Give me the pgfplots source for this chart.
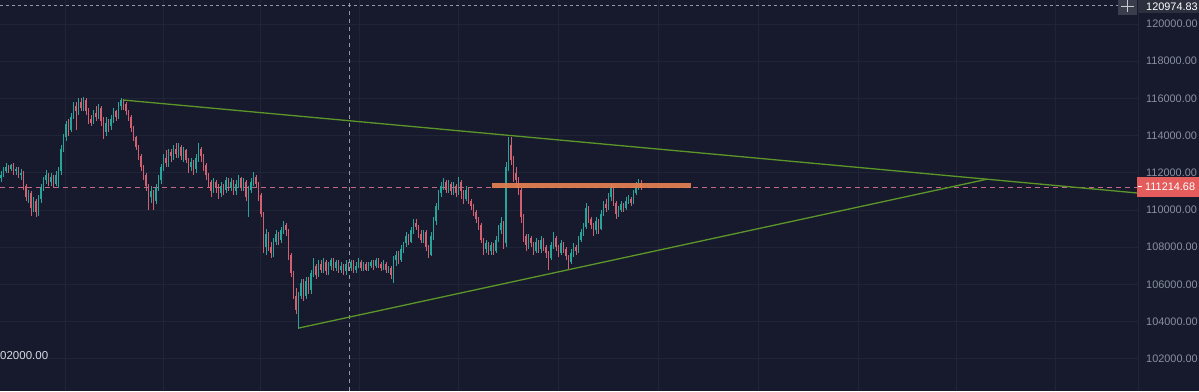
\documentclass[border=0pt]{standalone}
\usepackage{pgfplots}
\pgfplotsset{compat=1.18}
\usepackage{pgfplotstable}
\usepackage{fontspec}
\setmainfont{Liberation Sans}
\definecolor{bg}{RGB}{22,26,44}
\definecolor{gridc}{RGB}{31,36,55}
\definecolor{upc}{RGB}{38,166,154}
\definecolor{dnc}{RGB}{210,96,112}
\definecolor{trend}{RGB}{92,150,40}
\definecolor{band}{RGB}{228,128,82}
\definecolor{pricec}{RGB}{196,104,134}
\definecolor{tickc}{RGB}{138,143,158}
\definecolor{lbl}{RGB}{228,92,92}
\definecolor{cross}{RGB}{150,153,163}
\definecolor{toplbl}{RGB}{44,48,62}
\definecolor{plusbox}{RGB}{58,62,76}
\definecolor{plusc}{RGB}{200,202,210}
\definecolor{ovl}{RGB}{214,217,226}

\pgfplotstableread{
x o h l c
1 111700 112100 111500 111900
3.5 111900 112300 111800 112100
6 112100 112500 112000 112300
11 112200 112500 112100 112400
16 112100 112300 111900 112200
21 111900 112200 111600 112000
28.5 110700 111100 110400 110900
33.5 110100 110700 109900 110500
38.5 109900 110800 109700 110600
41 110600 111400 110400 111200
43.5 111200 111800 111000 111600
46 111600 112150 111400 111900
51 111500 112000 111300 111800
56 111400 112100 111300 111900
58.5 111900 112300 111200 112100
61 112100 113500 111900 113300
63.5 113300 114100 113100 113900
66 113900 114800 113700 114600
71 114300 115200 114200 115000
73.5 115000 115800 114900 115600
78.5 115300 116000 115100 115800
83.5 115500 116100 115300 115900
93.5 114700 115400 114600 115200
98.5 115000 115700 114900 115500
106 114200 115000 114000 114700
111 114500 115100 114300 114900
113.5 114900 115500 114700 115300
118.5 115000 115800 114900 115600
121 115600 116000 115400 115900
151 110700 111300 110400 111000
156 110500 111400 110300 111200
158.5 111200 111900 111000 111600
161 111600 112500 111400 112300
163.5 112300 113000 112100 112800
168.5 112500 113300 112300 113100
173.5 112900 113500 112700 113300
178.5 113000 113600 112800 113400
183.5 112900 113400 112600 113200
191 112300 112800 112100 112600
196 112200 113000 112000 112800
198.5 112800 113600 112600 113300
213.5 111000 111700 110900 111500
221 110900 111500 110700 111300
226 111100 111800 110900 111600
231 111200 111700 111000 111500
236 111000 111600 110800 111400
238.5 111400 111900 111200 111700
243.5 111200 111700 111000 111500
248.5 110700 111300 109600 111100
251 111100 111700 110900 111500
253.5 111500 112050 111300 111800
266 108000 109000 107600 108700
273.5 107700 108500 107500 108300
276 108300 108900 108100 108700
281 108400 109100 108200 108900
283.5 108900 109400 108700 109200
298.5 104600 105600 103600 105400
301 105400 106300 105200 106100
306 105400 106400 105200 106200
311 105700 106800 105500 106600
313.5 106600 107400 106400 107000
318.5 106500 107300 106400 107100
323.5 106800 107400 106600 107200
328.5 106700 107200 106500 107000
331 107000 107400 106800 107300
336 106900 107300 106700 107200
341 106800 107200 106600 107000
346 106700 107300 106500 107100
351 106900 107300 106700 107200
356 106800 107200 106600 107000
358.5 107000 107400 106900 107200
363.5 106900 107200 106700 107100
368.5 106800 107200 106700 107000
371 107000 107300 106900 107200
376 107000 107400 106900 107300
383.5 106900 107300 106800 107100
388.5 106800 107000 106600 106900
393.5 106500 107500 106100 107300
396 107300 107800 107000 107600
401 107300 108100 107200 107900
403.5 107900 108300 107700 108200
406 108200 108800 108000 108600
411 108300 109100 108200 108900
413.5 108900 109500 108700 109300
423.5 108400 108900 108200 108800
431 107600 108800 107500 108600
433.5 108600 109600 108400 109400
436 109400 110400 109200 110200
438.5 110200 111100 110000 110900
441 110900 111500 110700 111300
443.5 111300 111700 111100 111500
448.5 111100 111600 110900 111400
453.5 111000 111500 110800 111300
458.5 110900 111800 110800 111500
466 110600 111300 110500 111100
486 107900 108400 107700 108200
491 107800 108300 107600 108100
496 107800 108600 107700 108400
498.5 108400 109200 108300 108900
501 108900 109600 108700 109300
506 108200 112600 108000 112300
508.5 112300 113900 112100 113500
528.5 108100 108700 107900 108500
536 107800 108500 107700 108300
541 107900 108600 107700 108400
551 107400 108300 107300 108100
553.5 108100 108800 107900 108500
561 107700 108400 107600 108200
571 107200 107900 107100 107700
573.5 107700 108200 107500 108000
578.5 107800 108600 107700 108400
581 108400 109000 108300 108800
583.5 108800 109300 108600 109100
586 109100 110400 109000 110100
596 108900 109600 108700 109400
601 109000 110000 108900 109800
603.5 109800 110500 109700 110300
608.5 110100 110900 110000 110700
611 110700 111400 110500 111200
618.5 109800 110200 109600 110000
621 110000 110500 109900 110300
626 110100 110700 110000 110500
628.5 110500 110800 110300 110600
633.5 110400 111100 110300 110900
636 110900 111500 110800 111300
638.5 111300 111650 111100 111450
}\upT

\pgfplotstableread{
x o h l c
8.5 112300 112400 112000 112200
13.5 112400 112500 111900 112100
18.5 112200 112300 111700 111900
23.5 112000 112100 111100 111300
26 111300 111400 110500 110700
31 110900 111000 109700 110100
36 110500 110600 109600 109900
48.5 111900 112000 111300 111500
53.5 111800 111900 111200 111400
68.5 114600 114900 114000 114300
76 115600 115800 114300 115300
81 115800 116000 115300 115500
86 115900 116000 115100 115300
88.5 115300 115500 114600 114900
91 114900 115100 114500 114700
96 115200 115600 114800 115000
101 115500 115600 114500 114800
103.5 114800 115000 113800 114200
108.5 114700 114900 114200 114500
116 115300 115400 114800 115000
123.5 115900 115950 115400 115700
126 115700 115800 115100 115300
128.5 115300 115400 114800 115000
131 115000 115100 114200 114400
133.5 114400 114500 113700 113900
136 113900 114000 113200 113400
138.5 113400 113500 112700 112900
141 112900 113000 112100 112300
143.5 112300 112400 111600 111900
146 111900 112000 111000 111300
148.5 111300 111400 110000 110700
153.5 111000 111100 110000 110500
166 112800 113200 112300 112500
171 113100 113300 112600 112900
176 113300 113600 112800 113000
181 113400 113500 112700 112900
186 113200 113300 112500 112700
188.5 112700 112800 112000 112300
193.5 112600 112700 111900 112200
201 113300 113400 112600 112900
203.5 112900 113000 112100 112400
206 112400 112500 111600 111900
208.5 111900 112000 111200 111500
211 111500 111600 110700 111000
216 111500 111600 110900 111200
218.5 111200 111400 110600 110900
223.5 111300 111400 110800 111100
228.5 111600 111700 111000 111200
233.5 111500 111600 110800 111000
241 111700 111800 111000 111200
246 111500 111600 110500 110700
256 111800 111900 111200 111400
258.5 111400 111500 110500 110800
261 110800 110900 109600 109800
263.5 109800 109900 107700 108000
268.5 108700 108800 107800 108000
271 108000 108300 107400 107700
278.5 108700 108800 108100 108400
286 109200 109300 108600 108900
288.5 108900 109000 107300 107600
291 107600 107700 106400 106600
293.5 106600 106700 105200 105400
296 105400 105800 104400 104600
303.5 106100 106300 105100 105400
308.5 106200 106400 105500 105700
316 107000 107100 106300 106500
321 107100 107300 106600 106800
326 107200 107300 106500 106700
333.5 107300 107400 106700 106900
338.5 107200 107300 106600 106800
343.5 107000 107100 106500 106700
348.5 107100 107200 106700 106900
353.5 107200 107300 106600 106800
361 107200 107300 106700 106900
366 107100 107200 106700 106800
373.5 107200 107300 106800 107000
378.5 107300 107400 106900 107100
381 107100 107200 106700 106900
386 107100 107200 106600 106800
391 106900 107000 106300 106500
398.5 107600 107800 107100 107300
408.5 108600 108700 108100 108300
416 109300 109500 108900 109100
418.5 109100 109200 108500 108700
421 108700 108900 108200 108400
426 108800 108900 107800 108000
428.5 108000 108100 107400 107600
446 111500 111600 110900 111100
451 111400 111500 110800 111000
456 111300 111400 110700 110900
461 111500 111600 110600 111000
463.5 111000 111100 110300 110600
468.5 111100 111200 110300 110500
471 110500 110600 110000 110200
473.5 110200 110300 109700 109900
476 109900 110000 109300 109500
478.5 109500 109600 108900 109200
481 109200 109300 108200 108400
483.5 108400 108500 107600 107900
488.5 108200 108300 107600 107800
493.5 108100 108200 107600 107800
503.5 109300 109400 107900 108200
511 113500 113900 112400 112700
513.5 112700 112900 111500 112000
516 112000 112300 111200 111600
518.5 111600 111800 110800 111100
521 111100 111200 109300 109600
523.5 109600 109800 108300 108600
526 108600 108700 107800 108100
531 108500 108600 108000 108200
533.5 108200 108300 107600 107800
538.5 108300 108400 107700 107900
543.5 108400 108500 107800 108000
546 108000 108100 107400 107700
548.5 107700 107800 106800 107400
556 108500 108600 107800 108000
558.5 108000 108100 107500 107700
563.5 108200 108300 107700 107900
566 107900 108000 107300 107500
568.5 107500 107600 106800 107200
576 108000 108100 107600 107800
588.5 110100 110200 109300 109500
591 109500 109600 109000 109200
593.5 109200 109300 108600 108900
598.5 109400 109500 108700 109000
606 110300 110600 109900 110100
613.5 111200 111300 110200 110400
616 110400 110500 109500 109800
623.5 110300 110400 109900 110100
631 110600 110700 110200 110400
641 111450 111600 111100 111214.68
}\dnT

\begin{document}
\begin{tikzpicture}[x=1pt,y=1pt]
\useasboundingbox (0,0) rectangle (1199,391);
\fill[bg] (0,0) rectangle (1199,391);
\clip (0,0) rectangle (1199,391);
\begin{axis}[
  at={(0,0)}, anchor=south west, scale only axis,
  width=1138pt, height=391pt,
  xmin=0, xmax=1138, ymin=100269, ymax=121290,
  axis line style={draw=none}, major tick length=0pt,
  xtick={65,163,260,359,458,558,658,758,858,956,1055}, xticklabels={},
  ytick={102000,104000,106000,108000,110000,112000,114000,116000,118000,120000},
  scaled y ticks=false,
  yticklabel pos=right,
  grid=major, grid style={gridc, line width=0.8pt},
  yticklabel style={anchor=west, inner sep=0pt, xshift=8pt, text=tickc,
    font=\fontsize{10.9}{12}\selectfont,
    /pgf/number format/.cd, fixed, fixed zerofill, precision=2, 1000 sep={}, assume math mode=true},
]
% price line
\addplot[pricec, dash pattern=on 5pt off 4pt, line width=1pt] coordinates {(0,111214.68) (1138,111214.68)};
% crosshair
\addplot[cross, dash pattern=on 3pt off 3pt, line width=0.8pt] coordinates {(0,120974.83) (1118,120974.83)};
\addplot[cross, dash pattern=on 4pt off 4pt, line width=0.8pt] coordinates {(349,100269) (349,121290)};
% wicks
\addplot[draw=none, forget plot, error bars/.cd, y dir=both, y explicit, error mark=none,
  error bar style={draw=upc, line width=0.7pt, solid}]
  table[x=x, y expr={(\thisrow{h}+\thisrow{l})/2}, y error expr={(\thisrow{h}-\thisrow{l})/2}] {\upT};
\addplot[draw=none, forget plot, error bars/.cd, y dir=both, y explicit, error mark=none,
  error bar style={draw=dnc, line width=0.7pt, solid}]
  table[x=x, y expr={(\thisrow{h}+\thisrow{l})/2}, y error expr={(\thisrow{h}-\thisrow{l})/2}] {\dnT};
% bodies
\addplot[draw=none, forget plot, error bars/.cd, y dir=both, y explicit, error mark=none,
  error bar style={draw=upc, line width=1.7pt, solid}]
  table[x=x, y expr={(\thisrow{o}+\thisrow{c})/2}, y error expr={abs(\thisrow{c}-\thisrow{o})/2}] {\upT};
\addplot[draw=none, forget plot, error bars/.cd, y dir=both, y explicit, error mark=none,
  error bar style={draw=dnc, line width=1.7pt, solid}]
  table[x=x, y expr={(\thisrow{o}+\thisrow{c})/2}, y error expr={abs(\thisrow{c}-\thisrow{o})/2}] {\dnT};
% resistance band
\addplot[band, line width=5pt, opacity=0.92] coordinates {(492,111291) (691,111291)};
% trend lines
\addplot[trend, line width=1.3pt] coordinates {(123,115914) (1137,110915)};
\addplot[trend, line width=1.3pt] coordinates {(299,103657) (987,111656)};
\end{axis}
\draw[gridc, line width=1pt] (1138,0) -- (1138,391);
% top crosshair label
\fill[toplbl] (1138,378) rectangle (1199,391);
\fill[plusbox] (1118,376) rectangle (1137,391);
\draw[plusc, line width=1pt] (1121,384.5) -- (1134,384.5) (1127.5,378.5) -- (1127.5,391);
\node[anchor=west, inner sep=0pt, text=white, font=\fontsize{10.9}{12}\selectfont] at (1146,384) {120974.83};
% current price label
\fill[lbl] (1137,194) rectangle (1199,214);
\draw[white, line width=1pt] (1138,204) -- (1142,204);
\node[anchor=west, inner sep=0pt, text=white, font=\fontsize{10.9}{12}\selectfont] at (1145,204) {111214.68};
% bottom left overlay label (left digit hidden by the edge in the reference)
\node[anchor=west, inner sep=0pt, text=ovl, font=\fontsize{11.5}{12}\selectfont] at (0,35) {02000.00};
\end{tikzpicture}
\end{document}
